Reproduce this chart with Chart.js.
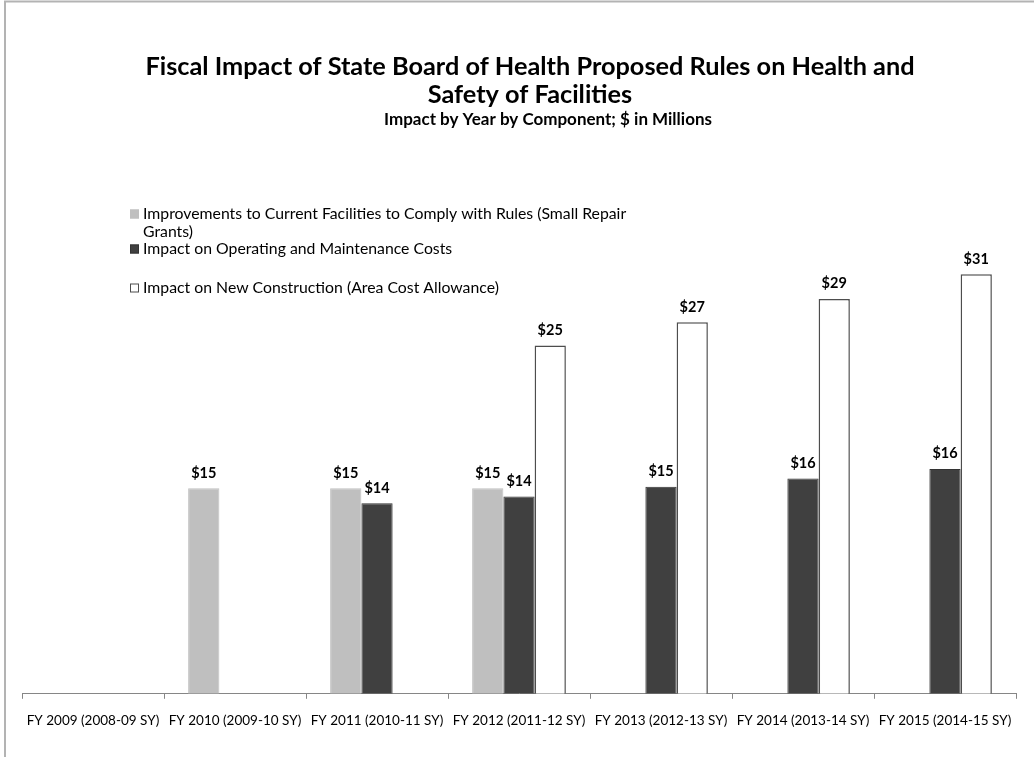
<!DOCTYPE html>
<html>
<head>
<meta charset="utf-8">
<title>Fiscal Impact of State Board of Health Proposed Rules</title>
<script src="https://cdn.jsdelivr.net/npm/chart.js@4.4.1/dist/chart.umd.min.js"></script>
<style>
  html, body { margin: 0; padding: 0; background: #fff; }
  #wrap { position: relative; width: 1034px; height: 757px; }
</style>
</head>
<body>
<div id="wrap"><canvas id="fiscalChart" width="1034" height="757"></canvas></div>
<script>
// ---- DATA ----
const categories = [
  'FY 2009 (2008-09 SY)', 'FY 2010 (2009-10 SY)', 'FY 2011 (2010-11 SY)', 'FY 2012 (2011-12 SY)',
  'FY 2013 (2012-13 SY)', 'FY 2014 (2013-14 SY)', 'FY 2015 (2014-15 SY)'
];
const seriesLabels = [
  'Improvements to Current Facilities to Comply with Rules (Small Repair Grants)',
  'Impact on Operating and Maintenance Costs',
  'Impact on New Construction (Area Cost Allowance)'
];
const smallRepairGrants = [null, 15.0, 15.0, 15.0, null, null, null];
const operatingCosts = [null, null, 13.9, 14.4, 15.1, 15.7, 16.4];
const newConstruction = [null, null, null, 25.4, 27.1, 28.8, 30.6];
const yMax = 35;

const titleLines = ['Fiscal Impact of State Board of Health Proposed Rules on Health and', 'Safety of Facilities'];
const subtitleText = 'Impact by Year by Component; $ in Millions';

const FONT = "Lato, 'Open Sans', 'Liberation Sans', sans-serif";

// ---- PLUGINS ----
// grey frame on the top and left edges
const framePlugin = {
  id: 'frame',
  beforeDraw(chart) {
    const c = chart.ctx;
    c.save();
    c.strokeStyle = '#b3b3b3';
    c.lineWidth = 2;
    c.beginPath();
    c.moveTo(5, chart.height);
    c.lineTo(5, 1.5);
    c.lineTo(chart.width, 1.5);
    c.stroke();
    c.restore();
  }
};

// title + subtitle (the original has them a little right of centre)
const titleBlock = {
  id: 'titleBlock',
  afterDraw(chart) {
    const c = chart.ctx;
    c.save();
    c.fillStyle = '#000';
    c.textAlign = 'center';
    c.textBaseline = 'middle';
    c.font = "bold 25.3px " + FONT;
    c.fillText(titleLines[0], 530, 67);
    c.fillText(titleLines[1], 530, 95);
    c.font = "bold 17px " + FONT;
    c.fillText(subtitleText, 548, 120);
    c.restore();
  }
};

// "$15" style labels over each bar
const valueLabels = {
  id: 'valueLabels',
  afterDatasetsDraw(chart) {
    const c = chart.ctx;
    c.save();
    c.font = "bold 14.5px " + FONT;
    c.fillStyle = '#000';
    c.textAlign = 'center';
    c.textBaseline = 'bottom';
    chart.data.datasets.forEach((ds, i) => {
      const meta = chart.getDatasetMeta(i);
      meta.data.forEach((bar, j) => {
        const v = ds.data[j];
        if (v == null) return;
        c.fillText('$' + Math.round(v), bar.x, bar.y - 8);
      });
    });
    c.restore();
  }
};

// legend drawn inside the plot area, upper left (like the Excel original)
const innerLegend = {
  id: 'innerLegend',
  afterDraw(chart) {
    const c = chart.ctx;
    const rows = [214, 249, 288];
    const boxX = 130, textX = 143, maxW = 500;
    c.save();
    c.font = "15.8px " + FONT;
    c.textBaseline = 'middle';
    chart.data.datasets.forEach((ds, i) => {
      const y = rows[i];
      c.fillStyle = ds.backgroundColor;
      c.fillRect(boxX, y - 4.5, 9, 9);
      c.strokeStyle = ds.borderColor;
      c.lineWidth = 1;
      c.strokeRect(boxX + 0.5, y - 4, 8, 8);
      // simple word wrap
      const words = ds.label.split(' ');
      let line = '', ly = y;
      c.fillStyle = '#000';
      c.textAlign = 'left';
      words.forEach(w => {
        const test = line ? line + ' ' + w : w;
        if (c.measureText(test).width > maxW && line) {
          c.fillText(line, textX, ly);
          line = w;
          ly += 18;
        } else {
          line = test;
        }
      });
      c.fillText(line, textX, ly);
    });
    c.restore();
  }
};

// ---- CHART ----
function initChart() {
  const ctx = document.getElementById('fiscalChart');

  new Chart(ctx, {
    type: 'bar',
    data: {
      labels: categories,
      datasets: [
        {
          label: seriesLabels[0],
          data: smallRepairGrants,
          backgroundColor: '#bfbfbf',
          borderColor: '#bfbfbf',
          borderWidth: 1
        },
        {
          label: seriesLabels[1],
          data: operatingCosts,
          backgroundColor: '#404040',
          borderColor: '#333333',
          borderWidth: 1
        },
        {
          label: seriesLabels[2],
          data: newConstruction,
          backgroundColor: '#ffffff',
          borderColor: '#4d4d4d',
          borderWidth: 1.5
        }
      ]
    },
    options: {
      responsive: false,
      animation: false,
      categoryPercentage: 0.66,
      barPercentage: 1.0,
      layout: { padding: { left: 22, right: 18, top: 214, bottom: 15 } },
      plugins: {
        legend: { display: false },
        tooltip: { enabled: false },
        title: { display: false }
      },
      scales: {
        x: {
          grid: {
            offset: true,
            drawOnChartArea: false,
            drawTicks: true,
            tickLength: 5,
            color: '#868686'
          },
          border: { display: true, color: '#868686', width: 1 },
          ticks: {
            color: '#000',
            font: { family: FONT, size: 13.5 },
            padding: 13.5,
            maxRotation: 0,
            autoSkip: false
          }
        },
        y: {
          display: false,
          min: 0,
          max: yMax
        }
      }
    },
    plugins: [framePlugin, titleBlock, valueLabels, innerLegend]
  });
}

initChart();
</script>
</body>
</html>
